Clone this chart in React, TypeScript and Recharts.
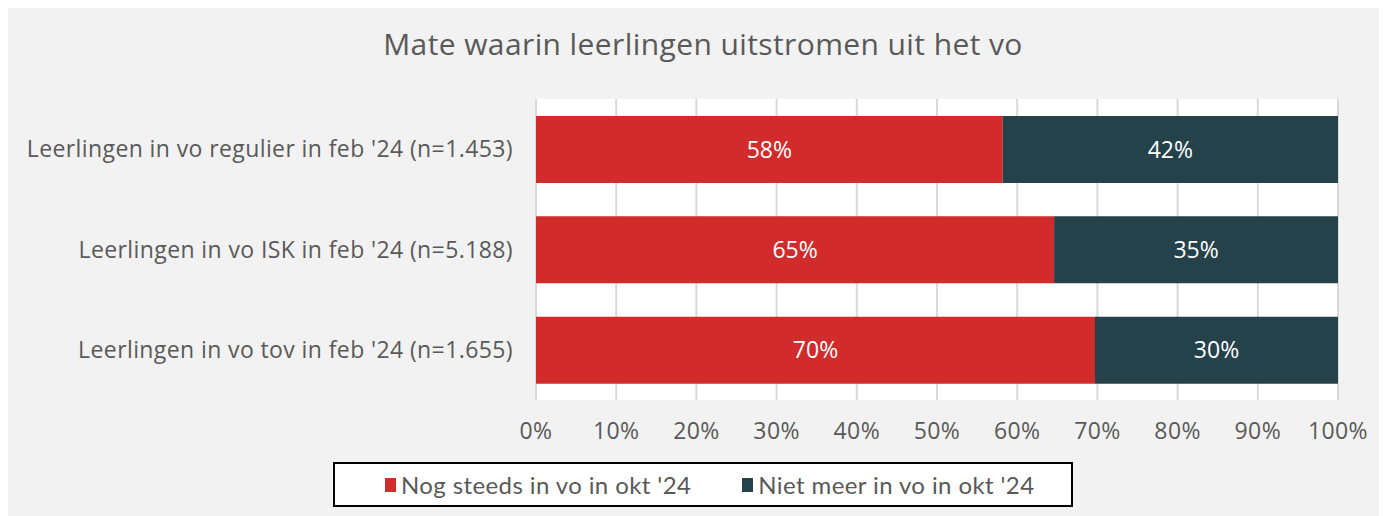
import { Bar, BarChart, CartesianGrid, LabelList, Legend, XAxis, YAxis } from "recharts";

const categories = [
  "Leerlingen in vo regulier in feb '24 (n=1.453)",
  "Leerlingen in vo ISK in feb '24 (n=5.188)",
  "Leerlingen in vo tov in feb '24 (n=1.655)",
];
const stillIn = [58.2, 64.6, 69.7];
const notIn = [41.8, 35.4, 30.3];
const ticks = [0, 10, 20, 30, 40, 50, 60, 70, 80, 90, 100];
const seriesNames = ["Nog steeds in vo in okt '24", "Niet meer in vo in okt '24"];
const seriesColors = ["#d22b2b", "#25414a"];

const data = categories.map((name, i) => ({ name, stillIn: stillIn[i], notIn: notIn[i] }));

const font = "'Open Sans', Lato, sans-serif";
const grey = "#595959";
const tickStyle = { fill: grey, fontSize: 23, fontFamily: font, letterSpacing: 0.4 };

function LegendBox() {
  return (
    <div
      style={{
        boxSizing: "border-box",
        width: 740,
        height: 45,
        background: "#fff",
        border: "2px solid #000",
        display: "flex",
        alignItems: "center",
        paddingLeft: 50,
        gap: 51,
        fontFamily: "Lato, sans-serif",
        fontSize: 24,
        letterSpacing: 0.4,
        color: grey,
      }}
    >
      {seriesNames.map((n, i) => (
        <span key={n} style={{ display: "flex", alignItems: "center", gap: 5 }}>
          <span style={{ width: 11, height: 14, background: seriesColors[i], display: "inline-block" }} />
          {n}
        </span>
      ))}
    </div>
  );
}

export default function App() {
  return (
    <div style={{ position: "relative", width: 1379, height: 508, background: "#f2f2f2" }}>
      <div
        style={{
          position: "absolute",
          top: 15,
          left: 0,
          width: 1390,
          textAlign: "center",
          fontFamily: font,
          fontSize: 30,
          letterSpacing: 0.4,
          color: grey,
        }}
      >
        Mate waarin leerlingen uitstromen uit het vo
      </div>
      <BarChart
        width={1379}
        height={508}
        data={data}
        layout="vertical"
        margin={{ top: 91, right: 49, bottom: 9, left: 0 }}
        barSize={67}
      >
        <CartesianGrid horizontal={false} stroke="#d9d9d9" strokeWidth={2} fill="#ffffff" />
        <XAxis
          type="number"
          domain={[0, 100]}
          ticks={ticks}
          tickFormatter={(v) => `${v}%`}
          axisLine={false}
          tickLine={false}
          tickSize={0}
          tickMargin={23}
          height={62}
          interval={0}
          tick={tickStyle}
        />
        <YAxis
          type="category"
          dataKey="name"
          width={528}
          axisLine={false}
          tickLine={false}
          tickSize={0}
          tickMargin={23}
          tick={tickStyle}
        />
        <Legend
          verticalAlign="bottom"
          content={() => <LegendBox />}
          wrapperStyle={{ left: 325, width: 740 }}
        />
        <Bar dataKey="stillIn" stackId="a" fill={seriesColors[0]} isAnimationActive={false}>
          <LabelList
            dataKey="stillIn"
            position="center"
            formatter={(v: number) => `${Math.round(v)}%`}
            fill="#fff"
            fontSize={23}
            fontFamily={font}
          />
        </Bar>
        <Bar dataKey="notIn" stackId="a" fill={seriesColors[1]} isAnimationActive={false}>
          <LabelList
            dataKey="notIn"
            position="center"
            formatter={(v: number) => `${Math.round(v)}%`}
            fill="#fff"
            fontSize={23}
            fontFamily={font}
          />
        </Bar>
      </BarChart>
    </div>
  );
}
